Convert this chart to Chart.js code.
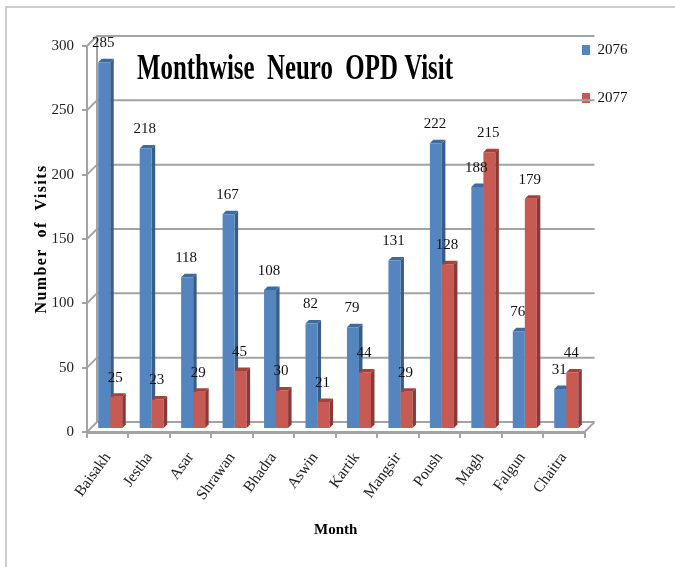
<!DOCTYPE html>
<html><head><meta charset="utf-8">
<script src="https://cdn.jsdelivr.net/npm/chart.js@4"></script>
<style>html,body{margin:0;padding:0;background:#fff}canvas{display:block}</style>
</head><body><canvas id="c" width="675" height="567"></canvas>
<script>
const months = ["Baisakh","Jestha","Asar","Shrawan","Bhadra","Aswin","Kartik","Mangsir","Poush","Magh","Falgun","Chaitra"];
const visits2076 = [285,218,118,167,108,82,79,131,222,188,76,31];
const visits2077 = [25,23,29,45,30,21,44,29,128,215,179,44];
const seriesNames = ["2076","2077"];
const yTicks = [0,50,100,150,200,250,300];
const SERIF = '"Liberation Serif","Times New Roman",serif';
const GRID = '#a3a3a3';
const DEPTH = 10, BAR_DX = 2.5, BAR_DY = -3, BAR_D = 3.5;

function shade(ctx, bars, sideCol, topCol){
  bars.forEach(b=>{
    const l=b.x-b.width/2+BAR_DX, r=b.x+b.width/2+BAR_DX, t=b.y+BAR_DY, bt=b.base+BAR_DY;
    ctx.fillStyle=sideCol;
    ctx.beginPath();ctx.moveTo(r,t);ctx.lineTo(r+BAR_D,t-BAR_D);ctx.lineTo(r+BAR_D,bt-BAR_D);ctx.lineTo(r,bt);ctx.closePath();ctx.fill();
    ctx.fillStyle=topCol;
    ctx.beginPath();ctx.moveTo(l,t);ctx.lineTo(l+BAR_D,t-BAR_D);ctx.lineTo(r+BAR_D,t-BAR_D);ctx.lineTo(r,t);ctx.closePath();ctx.fill();
  });
}
const look3d = {
  id:'look3d',
  afterLayout(chart){
    const t=chart.titleBlock; t.left=137; t.right=453; t.top=49; t.bottom=t.top+t.height;
    const lg=chart.legend; const w=lg.right-lg.left; lg.left=582-33; lg.right=lg.left+w; lg.top=9.5; lg.bottom=lg.top+lg.height;
    const ys=chart.scales.y;
    if(!ys._spaced){
      const d=ys.drawTitle;
      ys.drawTitle=function(){const c=this.ctx;c.letterSpacing='1.4px';d.apply(this,arguments);c.letterSpacing='0px';};
      ys._spaced=true;
    }
  },
  beforeDraw(chart){
    const c=chart.ctx; c.save();
    c.strokeStyle='#bdbdbd';c.lineWidth=1.5;
    c.beginPath();c.moveTo(6,chart.height);c.lineTo(6,7);c.lineTo(chart.width,7);c.stroke();
    c.restore();
  },
  beforeDatasetsDraw(chart){
    const c=chart.ctx, y=chart.scales.y, a=chart.chartArea;
    c.save();c.strokeStyle=GRID;c.lineWidth=2;
    yTicks.forEach(v=>{
      const p=y.getPixelForValue(v);
      c.beginPath();c.moveTo(a.left,p);c.lineTo(a.left+DEPTH,p-DEPTH);c.lineTo(a.right+DEPTH,p-DEPTH);c.stroke();
    });
    c.beginPath();c.moveTo(a.left+DEPTH,y.getPixelForValue(300)-DEPTH);c.lineTo(a.left+DEPTH,y.getPixelForValue(0)-DEPTH);c.stroke();
    c.beginPath();c.moveTo(a.right,y.getPixelForValue(0));c.lineTo(a.right+DEPTH,y.getPixelForValue(0)-DEPTH);c.stroke();
    shade(c,chart.getDatasetMeta(0).data,'#385d8a','#3f6a9e');
    c.restore();
  },
  beforeDatasetDraw(chart){chart.ctx.save();chart.ctx.translate(BAR_DX,BAR_DY);},
  afterDatasetDraw(chart){chart.ctx.restore();},
  afterDatasetsDraw(chart){
    const c=chart.ctx;
    c.save();
    shade(c,chart.getDatasetMeta(1).data,'#8c3836','#a5403d');
    c.font='15px '+SERIF;c.fillStyle='#111';c.textAlign='center';c.textBaseline='middle';
    chart.data.datasets.forEach((ds,i)=>{
      chart.getDatasetMeta(i).data.forEach((b,j)=>{
        c.fillText(String(ds.data[j]),b.x+BAR_DX-1,b.y+BAR_DY-19);
      });
    });
    c.restore();
  }
};
new Chart(document.getElementById('c'),{
  type:'bar',
  data:{labels:months,datasets:[
    {label:seriesNames[0],data:visits2076,backgroundColor:'#5585be',borderWidth:0},
    {label:seriesNames[1],data:visits2077,backgroundColor:'#c85a54',borderWidth:0}
  ]},
  plugins:[look3d],
  options:{
    responsive:false,animation:false,
    layout:{autoPadding:false,padding:{left:0,top:4,right:2,bottom:28}},
    datasets:{bar:{categoryPercentage:0.58,barPercentage:1}},
    plugins:{
      tooltip:{enabled:false},
      title:{display:true,text:'Monthwise  Neuro  OPD Visit',color:'#000',padding:0,
        font:{family:SERIF,size:35,weight:'bold',lineHeight:1.2}},
      legend:{display:true,position:'right',align:'start',
        labels:{boxWidth:8,boxHeight:10,padding:33,color:'#111',font:{family:SERIF,size:15}}}
    },
    scales:{
      x:{
        grid:{drawOnChartArea:false,color:GRID,lineWidth:2,tickLength:6},
        border:{color:GRID,width:3},
        ticks:{color:'#222',font:{family:SERIF,size:15.5},minRotation:54,maxRotation:54,padding:11,autoSkip:false},
        title:{display:true,text:'Month',color:'#000',font:{family:SERIF,size:15,weight:'bold'},padding:{top:0,bottom:0}},
        afterFit(s){s.height=107;}
      },
      y:{
        min:0,max:300,
        grid:{drawOnChartArea:false,color:GRID,lineWidth:2,tickLength:5},
        border:{color:GRID,width:2},
        ticks:{stepSize:50,color:'#222',font:{family:SERIF,size:15},padding:8},
        title:{display:true,text:'Number  of  Visits',color:'#000',font:{family:SERIF,size:16,weight:'bold'},padding:{top:32,bottom:0}},
        afterFit(s){s.width=87;}
      }
    }
  }
});
</script></body></html>
